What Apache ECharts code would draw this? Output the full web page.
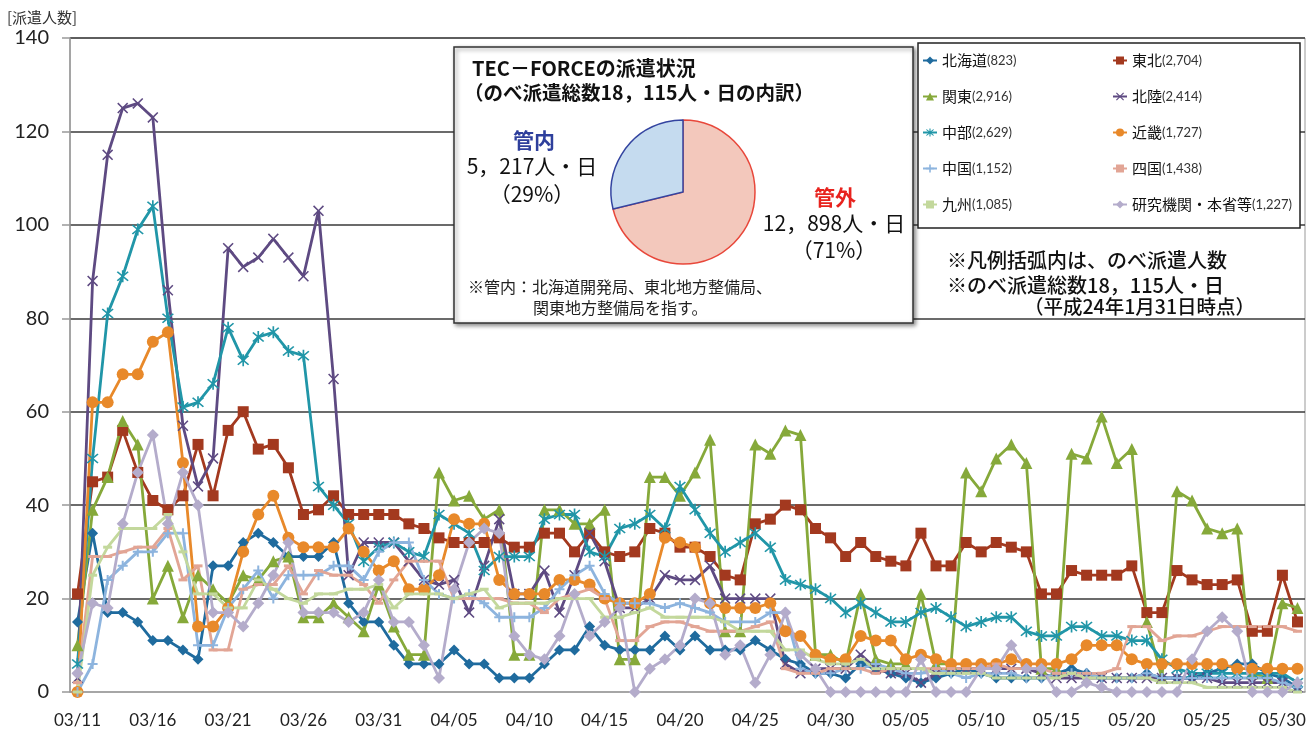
<!DOCTYPE html>
<html>
<head>
<meta charset="utf-8">
<script src="https://cdn.jsdelivr.net/npm/echarts@6/dist/echarts.min.js"></script>
<style>
  html, body { margin: 0; padding: 0; background: #fff; }
  #main { width: 1312px; height: 735px; }
</style>
</head>
<body>
<div id="main"></div>
<script>
var myChart = echarts.init(document.getElementById('main'));

// 日付（03/11〜05/31）
var days = [
  '03/11','03/12','03/13','03/14','03/15','03/16','03/17','03/18','03/19','03/20',
  '03/21','03/22','03/23','03/24','03/25','03/26','03/27','03/28','03/29','03/30','03/31',
  '04/01','04/02','04/03','04/04','04/05','04/06','04/07','04/08','04/09','04/10',
  '04/11','04/12','04/13','04/14','04/15','04/16','04/17','04/18','04/19','04/20',
  '04/21','04/22','04/23','04/24','04/25','04/26','04/27','04/28','04/29','04/30',
  '05/01','05/02','05/03','05/04','05/05','05/06','05/07','05/08','05/09','05/10',
  '05/11','05/12','05/13','05/14','05/15','05/16','05/17','05/18','05/19','05/20',
  '05/21','05/22','05/23','05/24','05/25','05/26','05/27','05/28','05/29','05/30','05/31'
];

// 各地域の派遣人数
var hokkaido = [15,34,17,17,15,11,11,9,7,27,27,32,34,32,29,29,29,
  32,19,15,15,10,6,6,6,9,6,6,3,3,3,6,9,
  9,14,10,9,9,9,12,9,12,9,9,9,11,9,7,6,4,
  4,3,6,5,4,3,2,3,4,5,4,3,3,3,3,4,5,
  4,3,3,3,4,3,3,3,4,5,6,6,4,3,1];
var tohoku = [21,45,46,56,47,41,39,42,53,42,56,60,52,53,48,38,39,
  42,38,38,38,38,36,35,33,32,32,32,33,31,31,34,34,
  30,34,30,29,30,35,34,31,31,29,25,24,36,37,40,39,35,
  33,29,32,29,28,27,34,27,27,32,30,32,31,30,21,21,26,
  25,25,25,27,17,17,26,24,23,23,24,13,13,25,15];
var kanto = [10,39,46,58,53,20,27,16,25,22,19,25,24,28,29,16,16,
  19,16,13,23,14,8,8,47,41,42,37,39,8,8,39,39,
  36,36,39,7,7,46,46,42,47,54,13,13,53,51,56,55,8,
  8,6,21,7,6,6,21,6,6,47,43,50,53,49,5,5,51,
  50,59,49,52,15,3,43,41,35,34,35,4,3,19,18];
var hokuriku = [3,88,115,125,126,123,86,57,44,50,95,91,93,97,93,89,103,
  67,25,32,32,32,28,24,23,24,17,27,37,21,21,26,17,
  25,34,28,18,18,20,25,24,24,27,20,20,20,20,6,4,5,
  5,5,8,5,4,4,2,4,5,5,5,5,5,5,4,3,3,
  3,3,3,3,3,3,3,3,3,2,2,2,2,2,1];
var chubu = [6,50,81,89,99,104,80,61,62,66,78,71,76,77,73,72,44,
  40,36,28,31,32,30,29,38,36,34,26,29,29,29,37,38,
  38,30,29,35,36,38,35,44,39,34,30,32,34,31,24,23,22,
  20,17,19,17,15,15,17,18,16,14,15,16,16,13,12,12,14,
  14,12,12,11,11,7,5,4,4,4,4,4,4,4,2];
var kinki = [0,62,62,68,68,75,77,49,14,14,18,30,38,42,33,31,31,
  31,35,30,26,28,22,22,25,37,36,36,24,21,21,21,24,
  24,23,20,19,19,21,33,32,31,19,18,18,18,19,13,12,8,
  7,7,12,11,11,7,8,7,6,6,6,6,7,6,6,6,7,
  10,10,10,7,6,6,6,6,6,6,5,5,5,5,5];
var chugoku = [0,6,24,27,30,30,34,34,10,10,18,22,26,20,25,25,25,
  27,27,24,30,32,32,24,21,20,21,19,16,16,16,18,22,
  25,27,21,19,19,19,18,19,18,17,15,15,15,17,17,5,4,
  4,5,5,6,5,4,4,5,4,3,4,4,4,3,3,4,4,
  4,3,3,3,4,3,3,3,3,3,3,3,3,2,1];
var shikoku = [2,29,29,30,31,31,35,24,27,9,9,22,23,23,27,21,26,
  25,25,23,19,24,28,28,28,20,20,20,20,19,19,17,20,
  21,22,20,11,11,14,15,15,14,13,13,13,14,15,5,4,4,
  5,5,5,4,5,5,5,5,5,5,5,6,5,5,5,4,4,
  4,4,5,14,14,11,12,12,13,14,14,14,14,14,13];
var kyushu = [0,25,31,35,35,35,38,30,21,21,18,18,24,22,20,19,21,
  21,22,22,23,18,21,21,21,20,21,22,18,19,19,19,20,
  20,20,16,16,17,18,16,16,16,16,15,13,13,13,9,9,7,
  6,6,7,5,5,5,5,4,4,4,4,3,3,3,3,3,4,
  3,3,3,3,3,2,2,2,1,1,1,1,1,1,0];
var kenkyu = [4,19,18,36,47,55,36,47,40,17,17,14,19,25,32,17,17,
  17,15,17,24,15,15,10,3,22,32,35,34,12,8,7,12,
  21,12,15,18,0,5,7,10,20,19,8,10,2,8,17,8,5,
  0,0,0,0,0,0,7,0,0,0,5,5,10,5,5,0,0,
  2,1,0,0,0,0,0,7,13,16,13,0,0,0,2];

// 凡例（のべ派遣人数）
var names = ['北海道','東北','関東','北陸','中部','近畿','中国','四国','九州','研究機関・本省等'];
var totals = ['823','2,704','2,916','2,414','2,629','1,727','1,152','1,438','1,085','1,227'];
var values = [hokkaido, tohoku, kanto, hokuriku, chubu, kinki, chugoku, shikoku, kyushu, kenkyu];
var colors = ['#1F6B9E','#A3391F','#86A93A','#5E4A82','#2196A8','#E8892A','#8DB4DE','#E2A595','#C3D89C','#B4ACCB'];

// 管内・管外
var pieNames = ['管外', '管内'];
var pieValues = [12898, 5217];

var xPath = 'path://M1,0L5,4L9,0L10,1L6,5L10,9L9,10L5,6L1,10L0,9L4,5L0,1Z';
var starPath = 'path://M1,0L5,4L9,0L10,1L6,5L10,9L9,10L5,6L1,10L0,9L4,5L0,1Z M4.3,-1H5.7V11H4.3Z';
var plusPath = 'path://M4,0H6V4H10V6H6V10H4V6H0V4H4Z';
var symbols = ['diamond','rect','triangle',xPath,starPath,'circle',plusPath,'rect','rect','diamond'];
var symbolSizes = [11,11,12,11,12,12,10,[9,3],[9,3],12];

var series = names.map(function (n, i) {
  return {
    name: n,
    type: 'line',
    data: values[i],
    symbol: symbols[i],
    symbolSize: symbolSizes[i],
    showAllSymbol: true,
    lineStyle: { color: colors[i], width: 2.8 },
    itemStyle: { color: colors[i] },
    emphasis: { disabled: true },
    z: 2
  };
});

series.push({
  name: '内訳',
  type: 'pie',
  center: [683, 192],
  radius: 72,
  startAngle: 90,
  clockwise: true,
  silent: true,
  z: 30,
  label: { show: false },
  labelLine: { show: false },
  data: [
    { name: pieNames[0], value: pieValues[0], itemStyle: { color: '#F3C8BC', borderColor: '#E8473A', borderWidth: 1.5 } },
    { name: pieNames[1], value: pieValues[1], itemStyle: { color: '#C5DBEF', borderColor: '#3344A0', borderWidth: 1.5 } }
  ]
});

function legendFmt(name) {
  var i = names.indexOf(name);
  return '{n|' + name + '}{c|(' + totals[i] + ')}';
}
var legendText = {
  rich: {
    n: { fontSize: 15, color: '#111', fontFamily: 'Noto Sans CJK JP', lineHeight: 16 },
    c: { fontSize: 13, color: '#333', fontFamily: 'Lato', lineHeight: 16 }
  }
};

var jp = '"Noto Sans CJK JP"';
function txt(x, y, s, font, color, align) {
  return {
    type: 'text', x: x, y: y, z: 40, silent: true,
    style: { text: s, font: font, fill: color || '#111', textAlign: align || 'left', textVerticalAlign: 'middle', verticalAlign: 'middle' }
  };
}

var option = {
  animation: false,
  backgroundColor: '#fff',
  grid: {
    show: true,
    left: 70, right: 7, top: 38, bottom: 43,
    borderColor: '#999', borderWidth: 1,
    containLabel: false
  },
  xAxis: {
    type: 'category',
    data: days,
    boundaryGap: true,
    axisLine: { lineStyle: { color: '#999', width: 1.5 } },
    axisTick: { interval: 4, length: 7, lineStyle: { color: '#999', width: 1.5 } },
    axisLabel: { interval: 4, fontSize: 17, color: '#222', margin: 20, fontFamily: 'Lato' },
    splitLine: { show: false }
  },
  yAxis: {
    type: 'value',
    min: 0, max: 140, interval: 20,
    axisLine: { show: true, lineStyle: { color: '#999', width: 1.5 } },
    axisTick: { show: true, length: 8, lineStyle: { color: '#999', width: 1.5 } },
    axisLabel: { fontSize: 20, color: '#222', margin: 21, fontFamily: 'Lato' },
    splitLine: { show: true, showMinLine: false, lineStyle: { color: '#3a3a3a', width: 1.5 } }
  },
  legend: [
    {
      data: ['北海道','関東','中部','中国','九州'],
      orient: 'vertical', left: 922, top: 53, padding: 0,
      itemGap: 21, itemWidth: 14, itemHeight: 10, z: 20,
      selectedMode: false, formatter: legendFmt, textStyle: legendText
    },
    {
      data: ['東北','北陸','近畿','四国','研究機関・本省等'],
      orient: 'vertical', left: 1112, top: 53, padding: 0,
      itemGap: 21, itemWidth: 14, itemHeight: 10, z: 20,
      selectedMode: false, formatter: legendFmt, textStyle: legendText
    }
  ],
  graphic: [
    txt(7, 17, '[派遣人数]', '15px ' + jp, '#333'),
    {
      type: 'rect', z: 10, silent: true,
      shape: { x: 454, y: 47, width: 459, height: 276 },
      style: { fill: '#fff', stroke: '#333', lineWidth: 1.5, shadowBlur: 4, shadowOffsetX: 2, shadowOffsetY: 2, shadowColor: 'rgba(0,0,0,0.45)' }
    },
    {
      type: 'rect', z: 10, silent: true,
      shape: { x: 918, y: 43, width: 382, height: 185 },
      style: { fill: '#fff', stroke: '#222', lineWidth: 1.5 }
    },
    txt(472, 68, 'TEC－FORCEの派遣状況', 'bold 20px ' + jp, '#111'),
    txt(464, 93, '（のべ派遣総数18，115人・日の内訳）', 'bold 19.5px ' + jp, '#111'),
    txt(534, 140, '管内', 'bold 21px ' + jp, '#2E3F9C', 'center'),
    txt(532, 166, '5，217人・日', '21px ' + jp, '#111', 'center'),
    txt(532, 194, '（29%）', '21px ' + jp, '#111', 'center'),
    txt(835, 197, '管外', 'bold 21px ' + jp, '#E8231E', 'center'),
    txt(834, 223, '12，898人・日', '21px ' + jp, '#111', 'center'),
    txt(834, 250, '（71%）', '21px ' + jp, '#111', 'center'),
    txt(468, 287, '※管内：北海道開発局、東北地方整備局、', '16px ' + jp, '#222'),
    txt(533, 308, '関東地方整備局を指す。', '16px ' + jp, '#222'),
    txt(947, 260, '※凡例括弧内は、のべ派遣人数', '500 20px ' + jp, '#111'),
    txt(947, 285, '※のべ派遣総数18，115人・日', '500 20px ' + jp, '#111'),
    txt(1024, 307, '（平成24年1月31日時点）', '500 19.5px ' + jp, '#111')
  ],
  series: series
};

myChart.setOption(option);
</script>
</body>
</html>
